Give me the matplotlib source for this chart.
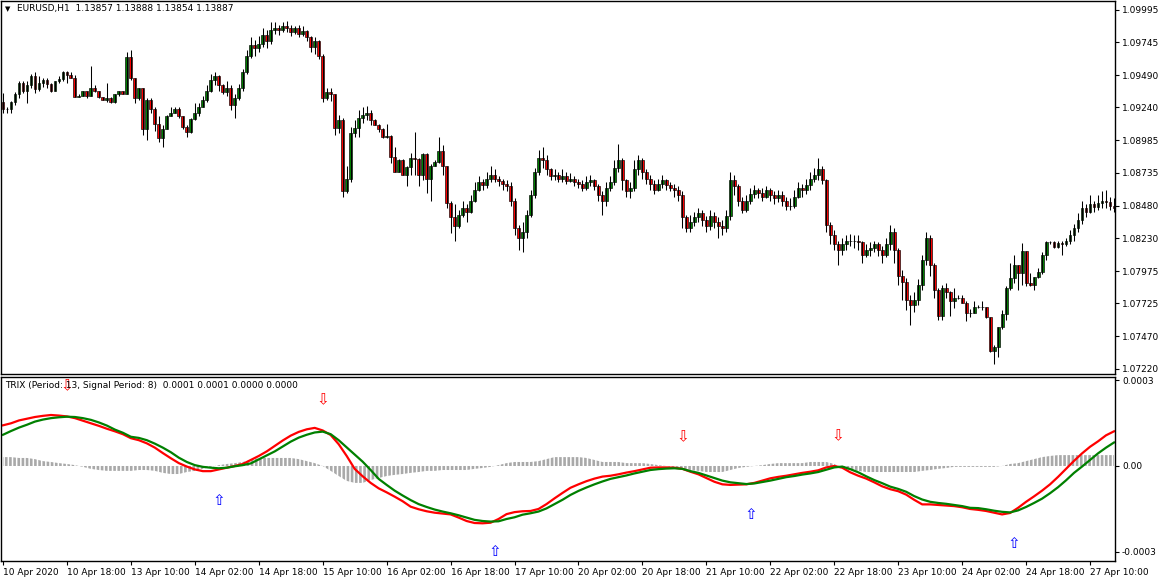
import numpy as np
import matplotlib
matplotlib.use("Agg")
import matplotlib.pyplot as plt

# ---- EURUSD H1 candles (bar i is one hour) ----
first_open = 1.0928
close = [
    1.0923, 1.0923, 1.0928, 1.0934, 1.0943, 1.0937, 1.0941, 1.0948, 1.0938, 1.0943,
    1.0945, 1.0942, 1.0937, 1.0944, 1.0946, 1.0951, 1.0949, 1.0947, 1.0932, 1.0933,
    1.0937, 1.0933, 1.0939, 1.0937, 1.0932, 1.0930, 1.0931, 1.0928, 1.0934, 1.0937,
    1.0934, 1.0963, 1.0947, 1.0931, 1.0939, 1.0907, 1.0930, 1.0923, 1.0911, 1.0900,
    1.0907, 1.0917, 1.0920, 1.0923, 1.0917, 1.0909, 1.0905, 1.0915, 1.0920, 1.0924,
    1.0930, 1.0937, 1.0945, 1.0948, 1.0941, 1.0936, 1.0939, 1.0926, 1.0931, 1.0939,
    1.0951, 1.0964, 1.0972, 1.0970, 1.0973, 1.0980, 1.0975, 1.0984, 1.0985, 1.0984,
    1.0987, 1.0985, 1.0982, 1.0985, 1.0981, 1.0983, 1.0978, 1.0971, 1.0975, 1.0964,
    1.0931, 1.0936, 1.0934, 1.0908, 1.0914, 1.0859, 1.0869, 1.0904, 1.0908, 1.0916,
    1.0918, 1.0920, 1.0914, 1.0910, 1.0907, 1.0901, 1.0902, 1.0886, 1.0874, 1.0883,
    1.0872, 1.0878, 1.0885, 1.0884, 1.0872, 1.0888, 1.0869, 1.0879, 1.0882, 1.0890,
    1.0879, 1.0850, 1.0839, 1.0832, 1.0841, 1.0846, 1.0843, 1.0852, 1.0860, 1.0866,
    1.0864, 1.0869, 1.0872, 1.0869, 1.0867, 1.0865, 1.0863, 1.0852, 1.0831, 1.0823,
    1.0828, 1.0841, 1.0856, 1.0874, 1.0885, 1.0883, 1.0876, 1.0871, 1.0872, 1.0869,
    1.0871, 1.0867, 1.0869, 1.0866, 1.0865, 1.0862, 1.0866, 1.0868, 1.0863, 1.0856,
    1.0852, 1.0862, 1.0866, 1.0877, 1.0883, 1.0868, 1.0859, 1.0862, 1.0876, 1.0883,
    1.0874, 1.0869, 1.0865, 1.0860, 1.0865, 1.0868, 1.0864, 1.0862, 1.0860, 1.0856,
    1.0839, 1.0831, 1.0835, 1.0839, 1.0842, 1.0837, 1.0832, 1.0840, 1.0835, 1.0832,
    1.0831, 1.0840, 1.0868, 1.0863, 1.0852, 1.0845, 1.0852, 1.0857, 1.0860, 1.0858,
    1.0855, 1.0860, 1.0856, 1.0854, 1.0856, 1.0852, 1.0848, 1.0848, 1.0855, 1.0862,
    1.0860, 1.0864, 1.0869, 1.0872, 1.0876, 1.0868, 1.0833, 1.0825, 1.0818, 1.0814,
    1.0818, 1.0821, 1.0821, 1.0821, 1.0820, 1.0810, 1.0814, 1.0815, 1.0818, 1.0814,
    1.0810, 1.0818, 1.0828, 1.0814, 1.0794, 1.0789, 1.0775, 1.0771, 1.0775, 1.0787,
    1.0806, 1.0823, 1.0802, 1.0783, 1.0763, 1.0784, 1.0781, 1.0774, 1.0777, 1.0777,
    1.0773, 1.0765, 1.0765, 1.0770, 1.0770, 1.0770, 1.0762, 1.0736, 1.0739, 1.0754,
    1.0764, 1.0784, 1.0792, 1.0802, 1.0796, 1.0813, 1.0788, 1.0787, 1.0793, 1.0797,
    1.0810, 1.0820, 1.0820, 1.0816, 1.0819, 1.0818, 1.0821, 1.0825, 1.0831, 1.0837,
    1.0846, 1.0843, 1.0849, 1.0847, 1.0850, 1.0852, 1.0851, 1.0848, 1.0846,
]
high = [
    1.0935, 1.0924, 1.0929, 1.0936, 1.0944, 1.0944, 1.0944, 1.0950, 1.0951, 1.0948,
    1.0947, 1.0947, 1.0943, 1.0944, 1.0948, 1.0952, 1.0952, 1.0951, 1.0949, 1.0934,
    1.0937, 1.0937, 1.0956, 1.0941, 1.0937, 1.0932, 1.0943, 1.0932, 1.0934, 1.0937,
    1.0937, 1.0967, 1.0968, 1.0947, 1.0939, 1.0939, 1.0931, 1.0931, 1.0924, 1.0917,
    1.0910, 1.0918, 1.0924, 1.0924, 1.0924, 1.0917, 1.0910, 1.0916, 1.0927, 1.0927,
    1.0933, 1.0941, 1.0950, 1.0951, 1.0949, 1.0942, 1.0944, 1.0941, 1.0934, 1.0942,
    1.0954, 1.0968, 1.0978, 1.0976, 1.0979, 1.0985, 1.0984, 1.0990, 1.0990, 1.0988,
    1.0990, 1.0991, 1.0988, 1.0987, 1.0988, 1.0987, 1.0984, 1.0979, 1.0978, 1.0976,
    1.0965, 1.0939, 1.0939, 1.0934, 1.0918, 1.0916, 1.0879, 1.0909, 1.0914, 1.0922,
    1.0924, 1.0925, 1.0922, 1.0915, 1.0911, 1.0908, 1.0911, 1.0903, 1.0893, 1.0884,
    1.0884, 1.0879, 1.0889, 1.0905, 1.0885, 1.0889, 1.0889, 1.0880, 1.0883, 1.0901,
    1.0895, 1.0879, 1.0852, 1.0849, 1.0845, 1.0852, 1.0849, 1.0856, 1.0866, 1.0871,
    1.0869, 1.0874, 1.0879, 1.0876, 1.0871, 1.0869, 1.0868, 1.0866, 1.0854, 1.0833,
    1.0835, 1.0845, 1.0860, 1.0877, 1.0891, 1.0893, 1.0887, 1.0877, 1.0876, 1.0874,
    1.0876, 1.0874, 1.0873, 1.0871, 1.0869, 1.0868, 1.0871, 1.0872, 1.0869, 1.0865,
    1.0859, 1.0866, 1.0871, 1.0883, 1.0896, 1.0885, 1.0869, 1.0866, 1.0883, 1.0887,
    1.0885, 1.0876, 1.0872, 1.0868, 1.0869, 1.0872, 1.0869, 1.0866, 1.0865, 1.0863,
    1.0859, 1.0841, 1.0841, 1.0843, 1.0846, 1.0845, 1.0840, 1.0845, 1.0843, 1.0839,
    1.0837, 1.0845, 1.0874, 1.0872, 1.0865, 1.0855, 1.0856, 1.0862, 1.0864, 1.0862,
    1.0862, 1.0863, 1.0862, 1.0859, 1.0860, 1.0859, 1.0855, 1.0854, 1.0860, 1.0866,
    1.0865, 1.0869, 1.0874, 1.0877, 1.0885, 1.0879, 1.0869, 1.0835, 1.0829, 1.0821,
    1.0823, 1.0825, 1.0826, 1.0825, 1.0825, 1.0821, 1.0818, 1.0820, 1.0821, 1.0820,
    1.0817, 1.0823, 1.0833, 1.0831, 1.0815, 1.0798, 1.0792, 1.0779, 1.0781, 1.0791,
    1.0810, 1.0828, 1.0825, 1.0804, 1.0784, 1.0787, 1.0788, 1.0782, 1.0784, 1.0779,
    1.0779, 1.0774, 1.0768, 1.0774, 1.0771, 1.0774, 1.0770, 1.0762, 1.0740, 1.0754,
    1.0767, 1.0786, 1.0804, 1.0810, 1.0802, 1.0819, 1.0813, 1.0796, 1.0793, 1.0800,
    1.0812, 1.0821, 1.0821, 1.0821, 1.0821, 1.0821, 1.0823, 1.0829, 1.0834, 1.0842,
    1.0852, 1.0849, 1.0856, 1.0852, 1.0856, 1.0859, 1.0860, 1.0855, 1.0854,
]
low = [
    1.0920, 1.0920, 1.0920, 1.0926, 1.0931, 1.0935, 1.0927, 1.0939, 1.0935, 1.0937,
    1.0940, 1.0939, 1.0936, 1.0937, 1.0943, 1.0944, 1.0943, 1.0947, 1.0932, 1.0932,
    1.0933, 1.0931, 1.0937, 1.0936, 1.0931, 1.0930, 1.0928, 1.0927, 1.0927, 1.0933,
    1.0934, 1.0934, 1.0945, 1.0927, 1.0930, 1.0903, 1.0899, 1.0920, 1.0906, 1.0897,
    1.0893, 1.0907, 1.0917, 1.0920, 1.0916, 1.0907, 1.0901, 1.0904, 1.0914, 1.0917,
    1.0925, 1.0928, 1.0936, 1.0941, 1.0937, 1.0934, 1.0933, 1.0922, 1.0916, 1.0930,
    1.0937, 1.0950, 1.0962, 1.0964, 1.0967, 1.0971, 1.0970, 1.0973, 1.0981, 1.0980,
    1.0982, 1.0982, 1.0979, 1.0981, 1.0978, 1.0979, 1.0975, 1.0967, 1.0965, 1.0961,
    1.0928, 1.0930, 1.0929, 1.0903, 1.0904, 1.0855, 1.0858, 1.0866, 1.0901, 1.0901,
    1.0912, 1.0914, 1.0910, 1.0910, 1.0905, 1.0900, 1.0900, 1.0881, 1.0874, 1.0874,
    1.0872, 1.0863, 1.0872, 1.0872, 1.0863, 1.0868, 1.0858, 1.0852, 1.0879, 1.0881,
    1.0872, 1.0846, 1.0827, 1.0821, 1.0831, 1.0839, 1.0835, 1.0842, 1.0851, 1.0859,
    1.0860, 1.0862, 1.0866, 1.0866, 1.0863, 1.0860, 1.0859, 1.0848, 1.0825, 1.0814,
    1.0812, 1.0823, 1.0839, 1.0854, 1.0872, 1.0877, 1.0872, 1.0868, 1.0868, 1.0866,
    1.0866, 1.0865, 1.0866, 1.0863, 1.0862, 1.0859, 1.0860, 1.0863, 1.0860, 1.0852,
    1.0841, 1.0848, 1.0859, 1.0864, 1.0874, 1.0860, 1.0855, 1.0854, 1.0859, 1.0872,
    1.0869, 1.0865, 1.0860, 1.0857, 1.0859, 1.0862, 1.0860, 1.0859, 1.0855, 1.0852,
    1.0831, 1.0828, 1.0828, 1.0832, 1.0835, 1.0832, 1.0828, 1.0829, 1.0831, 1.0823,
    1.0825, 1.0828, 1.0837, 1.0856, 1.0848, 1.0842, 1.0843, 1.0849, 1.0854, 1.0854,
    1.0852, 1.0854, 1.0852, 1.0849, 1.0851, 1.0848, 1.0845, 1.0845, 1.0846, 1.0854,
    1.0855, 1.0857, 1.0860, 1.0866, 1.0868, 1.0865, 1.0828, 1.0818, 1.0814, 1.0802,
    1.0810, 1.0814, 1.0817, 1.0815, 1.0814, 1.0804, 1.0808, 1.0809, 1.0812, 1.0809,
    1.0804, 1.0808, 1.0814, 1.0804, 1.0787, 1.0775, 1.0767, 1.0756, 1.0766, 1.0771,
    1.0783, 1.0802, 1.0794, 1.0777, 1.0760, 1.0760, 1.0777, 1.0763, 1.0769, 1.0776,
    1.0773, 1.0759, 1.0762, 1.0765, 1.0769, 1.0767, 1.0761, 1.0735, 1.0726, 1.0731,
    1.0753, 1.0760, 1.0783, 1.0788, 1.0783, 1.0787, 1.0786, 1.0786, 1.0783, 1.0792,
    1.0795, 1.0806, 1.0818, 1.0815, 1.0815, 1.0810, 1.0817, 1.0818, 1.0821, 1.0828,
    1.0834, 1.0839, 1.0842, 1.0843, 1.0845, 1.0846, 1.0846, 1.0845, 1.0843,
]

price_ticks = [1.09995, 1.09745, 1.09490, 1.09240, 1.08985, 1.08735,
               1.08480, 1.08230, 1.07975, 1.07725, 1.07470, 1.07220]
time_labels = ["10 Apr 2020", "10 Apr 18:00", "13 Apr 10:00", "14 Apr 02:00",
               "14 Apr 18:00", "15 Apr 10:00", "16 Apr 02:00", "16 Apr 18:00",
               "17 Apr 10:00", "20 Apr 02:00", "20 Apr 18:00", "21 Apr 10:00",
               "22 Apr 02:00", "22 Apr 18:00", "23 Apr 10:00", "24 Apr 02:00",
               "24 Apr 18:00", "27 Apr 10:00"]
bars_per_label = 16

# ---- TRIX(13) / signal(8), read every 2nd bar, units of 1e-6 ----
trix_u = [
    142, 149, 159, 165, 171, 175, 178, 176, 173, 167,
    158, 149, 140, 130, 121, 111, 97, 90, 79, 64,
    45, 27, 10, -2, -12, -18, -18, -12, -6, 0,
    7, 21, 35, 51, 70, 89, 106, 119, 128, 133,
    124, 108, 76, 35, -10, -36, -59, -78, -92, -107,
    -123, -142, -151, -158, -163, -166, -169, -180, -192, -199,
    -200, -198, -185, -168, -161, -158, -157, -150, -133, -113,
    -94, -76, -64, -53, -44, -37, -34, -29, -23, -18,
    -12, -6, -5, -5, -6, -10, -20, -29, -42, -55,
    -64, -66, -65, -64, -59, -51, -43, -38, -34, -29,
    -24, -20, -15, -5, 0, -6, -22, -34, -44, -57,
    -71, -81, -88, -100, -118, -134, -134, -136, -138, -140,
    -144, -150, -153, -157, -163, -169, -164, -146, -125, -106,
    -86, -64, -38, -10, 18, 44, 67, 86, 107, 121,
]
signal_u = [
    109, 122, 134, 144, 155, 162, 167, 170, 172, 171,
    167, 161, 152, 141, 127, 116, 102, 98, 90, 78,
    64, 48, 29, 14, 3, -3, -6, -8, -6, -1,
    3, 9, 23, 37, 51, 68, 85, 99, 109, 117,
    120, 111, 90, 65, 40, 15, -14, -45, -66, -86,
    -103, -119, -133, -143, -152, -159, -165, -172, -180, -188,
    -192, -194, -193, -185, -179, -170, -165, -159, -148, -133,
    -118, -101, -87, -75, -64, -54, -45, -39, -33, -26,
    -20, -14, -11, -9, -8, -10, -18, -24, -33, -42,
    -51, -57, -60, -63, -61, -56, -51, -45, -39, -35,
    -30, -26, -21, -13, -5, -2, -11, -22, -36, -49,
    -60, -72, -80, -90, -105, -117, -125, -129, -132, -136,
    -140, -146, -147, -151, -156, -160, -162, -155, -143, -129,
    -114, -95, -74, -50, -24, -2, 21, 44, 64, 82,
]
hist_u = [
    31, 31, 28, 28, 24, 17, 14, 10, 7, 3,
    -3, -10, -14, -17, -17, -17, -17, -14, -14, -17,
    -24, -28, -28, -21, -17, -10, -3, 3, 7, 10,
    14, 21, 28, 28, 28, 28, 28, 24, 17, 10,
    0, -17, -35, -52, -59, -59, -49, -42, -35, -31,
    -28, -24, -21, -17, -17, -14, -14, -14, -14, -10,
    -7, -3, 3, 10, 14, 14, 14, 17, 24, 31,
    31, 31, 31, 28, 21, 14, 14, 14, 10, 10,
    10, 7, 3, 0, -7, -10, -14, -17, -21, -21,
    -21, -14, -7, -3, 0, 3, 7, 10, 10, 10,
    10, 14, 14, 14, 7, -7, -14, -17, -21, -21,
    -21, -21, -21, -21, -21, -17, -14, -10, -7, -3,
    -3, -3, -3, -3, -3, 0, 7, 10, 17, 24,
    31, 35, 38, 38, 38, 38, 38, 38, 38, 38,
]
sell_bars = [16, 80, 170, 209]
sell_u = [279, 230, 101, 105]
buy_bars = [54, 123, 187, 253]
buy_u = [-119, -300, -168, -269]

W, H = 1162, 583
plt.rcParams["font.family"] = ["DejaVu Sans"]
plt.rcParams["hatch.linewidth"] = 1.9
plt.rcParams["hatch.color"] = "#a9a9a9"
FS = 6.5

fig = plt.figure(figsize=(W / 100, H / 100), dpi=100)
fig.patch.set_facecolor("white")


def px_axes(x0, y0, x1, y1):
    return fig.add_axes([x0 / W, 1 - y1 / H, (x1 - x0) / W, (y1 - y0) / H])


ax = px_axes(1, 1, 1115, 374)
ax2 = px_axes(1, 377, 1115, 561)

# candles
c = np.array(close)
o = np.r_[first_open, c[:-1]]
hi = np.maximum(np.array(high), np.maximum(o, c))
lo = np.minimum(np.array(low), np.minimum(o, c))
xb = np.arange(len(c))
up = c >= o
ax.vlines(xb, lo, hi, color="black", lw=0.75)
ax.bar(xb[up], c[up] - o[up], bottom=o[up], width=0.72,
       color="#008000", edgecolor="black", lw=0.45)
ax.bar(xb[~up], c[~up] - o[~up], bottom=o[~up], width=0.72,
       color="#ff0000", edgecolor="black", lw=0.45)

xlim = (-0.5, 278.25)
ax.set_xlim(*xlim)
ax.set_ylim(1.07179, 1.10062)
ax.set_xticks([])
ax.yaxis.tick_right()
ax.set_yticks(price_ticks)
ax.set_yticklabels([f"{p:.5f}" for p in price_ticks])

# indicator
xs = np.arange(0, len(c), 2)
trix = np.array(trix_u) * 1e-6
sig = np.array(signal_u) * 1e-6
hist = np.array(hist_u) * 1e-6
ax2.fill_between(xs, 0, hist, facecolor="none", edgecolor="#a9a9a9",
                 hatch="||||", linewidth=0)
ax2.plot(xs, trix, color="#ff0000", lw=1.6)
ax2.plot(xs, sig, color="#008000", lw=1.6)
for b, v in zip(sell_bars, sell_u):
    ax2.text(b, v * 1e-6, "\u21e9", color="#ff0000", fontsize=11,
             ha="center", va="center")
for b, v in zip(buy_bars, buy_u):
    ax2.text(b, v * 1e-6, "\u21e7", color="#0000ff", fontsize=11,
             ha="center", va="center")

ax2.set_xlim(*xlim)
ax2.set_ylim(-3.316e-4, 3.106e-4)
ax2.yaxis.tick_right()
ax2.set_yticks([3e-4, 0, -3e-4])
ax2.set_yticklabels(["0.0003", "0.00", "-0.0003"])
tick_bars = np.arange(len(time_labels)) * bars_per_label
ax2.set_xticks(tick_bars)
ax2.set_xticklabels(time_labels)
for lbl in ax2.get_xticklabels():
    lbl.set_horizontalalignment("left")

for a in (ax, ax2):
    for s in a.spines.values():
        s.set_color("black")
        s.set_linewidth(1.0)
    a.tick_params(axis="both", direction="out", length=3, width=0.8,
                  labelsize=FS, pad=2, colors="black")

fig.text(8 / W, 1 - 9 / H, "\u25bc", fontsize=5, va="center", ha="center")
fig.text(17 / W, 1 - 9 / H, "EURUSD,H1  1.13857 1.13888 1.13854 1.13887",
         fontsize=FS, va="center")
fig.text(5 / W, 1 - 385 / H,
         "TRIX (Period: 13, Signal Period: 8)  0.0001 0.0001 0.0000 0.0000",
         fontsize=FS, va="center")

fig.savefig("out.png", dpi=100)
